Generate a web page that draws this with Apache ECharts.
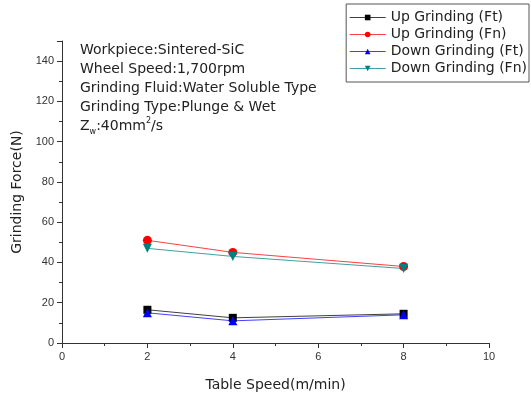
<!DOCTYPE html>
<html>
<head>
<meta charset="utf-8">
<script src="https://cdn.jsdelivr.net/npm/echarts@6/dist/echarts.min.js"></script>
<style>
html,body{margin:0;padding:0;background:#fff;}
#chart{width:531px;height:397px;}
</style>
</head>
<body>
<div id="chart"></div>
<script>
// Table speed (m/min) and measured grinding forces (N)
const tableSpeed = [2, 4, 8];
const upFt = [16.5, 12.5, 14.5];
const upFn = [51, 45, 38];
const downFt = [15, 11, 14];
const downFn = [47, 43, 37];
const seriesNames = ['Up Grinding (Ft)', 'Up Grinding (Fn)', 'Down Grinding (Ft)', 'Down Grinding (Fn)'];
const conditionLines = [
  'Workpiece:Sintered-SiC',
  'Wheel Speed:1,700rpm',
  'Grinding Fluid:Water Soluble Type',
  'Grinding Type:Plunge & Wet'
];

const wideFont = 'DejaVu Sans, Verdana, sans-serif';
const tickFont = 'Liberation Sans, Arial, sans-serif';
const pairs = v => tableSpeed.map((x, i) => [x, v[i]]);

function lineSeries(name, values, color, symbol, size) {
  return {
    name: name,
    type: 'line',
    data: pairs(values),
    symbol: symbol,
    symbolSize: size,
    lineStyle: { color: color, width: 1, opacity: 0.75 },
    itemStyle: { color: color },
    emphasis: { disabled: true },
    z: 3
  };
}

const chart = echarts.init(document.getElementById('chart'), null, { renderer: 'canvas' });
chart.setOption({
  animation: false,
  backgroundColor: '#fff',
  grid: { left: 62, right: 42, top: 41, bottom: 54 },
  xAxis: {
    type: 'value',
    min: 0, max: 10, interval: 2,
    name: 'Table Speed(m/min)',
    nameLocation: 'middle',
    nameGap: 35,
    nameTextStyle: { fontFamily: wideFont, fontSize: 14, color: '#222' },
    axisLine: { onZero: false, lineStyle: { color: '#333', width: 1 } },
    axisTick: { show: true, length: 5, inside: false, lineStyle: { color: '#333' } },
    minorTick: { show: true, splitNumber: 2, length: 3, lineStyle: { color: '#333' } },
    axisLabel: { fontFamily: tickFont, fontSize: 11, color: '#333', margin: 8 },
    splitLine: { show: false }
  },
  yAxis: {
    type: 'value',
    min: 0, max: 150, interval: 20,
    name: 'Grinding Force(N)',
    nameLocation: 'middle',
    nameGap: 38,
    nameTextStyle: { fontFamily: wideFont, fontSize: 14, color: '#222' },
    axisLine: { show: true, onZero: false, lineStyle: { color: '#333', width: 1 } },
    axisTick: { show: true, length: 5, inside: false, lineStyle: { color: '#333' } },
    minorTick: { show: true, splitNumber: 2, length: 3, lineStyle: { color: '#333' } },
    axisLabel: { fontFamily: tickFont, fontSize: 11, color: '#333', margin: 8, showMaxLabel: false },
    splitLine: { show: false }
  },
  legend: {
    right: 2, top: 4,
    orient: 'vertical',
    data: seriesNames,
    itemWidth: 36,
    itemHeight: 7,
    itemGap: 0,
    padding: [5, 2, 5, 3],
    borderColor: '#555',
    borderWidth: 1,
    lineStyle: { width: 1 },
    textStyle: { fontFamily: wideFont, fontSize: 14, color: '#222', lineHeight: 17 }
  },
  graphic: [
    {
      type: 'text',
      left: 80, top: 41,
      style: {
        text: conditionLines.join('\n') + '\n{z|Z}{sub|w}{z|:40mm}{sup|2}{z|/s}',
        fontFamily: wideFont,
        fontSize: 14,
        lineHeight: 19,
        fill: '#222',
        rich: {
          z: { fontFamily: wideFont, fontSize: 14, fill: '#222', lineHeight: 19 },
          sub: { fontFamily: wideFont, fontSize: 8, fill: '#222', verticalAlign: 'bottom', lineHeight: 19, padding: [9, 0, 0, 0] },
          sup: { fontFamily: wideFont, fontSize: 8, fill: '#222', verticalAlign: 'top', lineHeight: 19, padding: [0, 0, 8, 0] }
        }
      }
    }
  ],
  series: [
    lineSeries(seriesNames[0], upFt, '#000000', 'rect', 8),
    lineSeries(seriesNames[1], upFn, '#ff0000', 'circle', 9),
    lineSeries(seriesNames[2], downFt, '#0000ff', 'triangle', 9),
    lineSeries(seriesNames[3], downFn, '#008080', 'path://M0,0 L10,0 L5,9 Z', 9)
  ]
});
</script>
</body>
</html>
